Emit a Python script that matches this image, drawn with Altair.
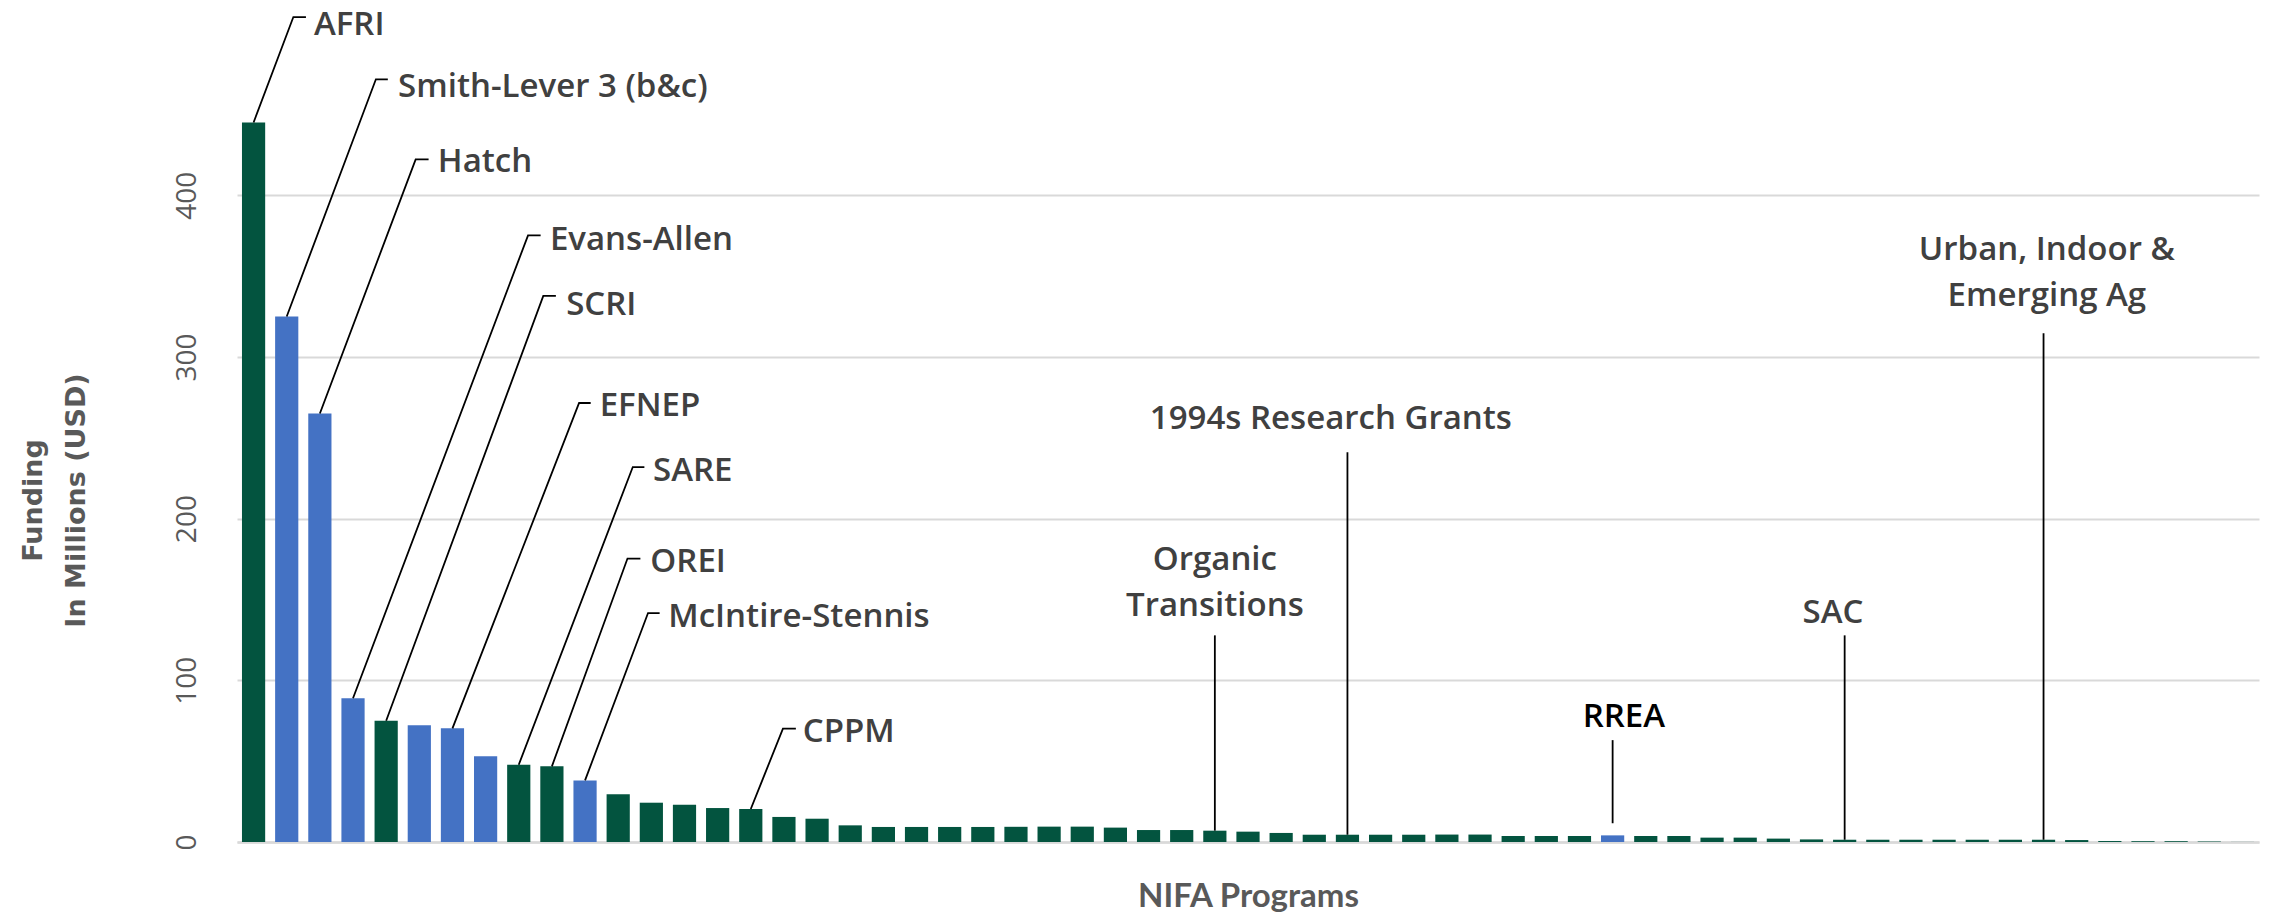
import altair as alt
import pandas as pd

# ---- bar data (NIFA programs, funding in millions USD, sorted) ----
funding = [445, 325, 265, 88.9, 75.0, 72.2, 70.3, 53.0, 47.8, 46.8, 38.1,
           29.5, 24.3, 23.1, 21.0, 20.4, 15.5, 14.4, 10.3, 9.3, 9.3, 9.3, 9.3,
           9.4, 9.5, 9.5, 8.9, 7.4, 7.4, 7.0, 6.4, 5.6, 4.5, 4.5, 4.5, 4.5,
           4.6, 4.6, 3.7, 3.7, 3.7, 4.1, 3.7, 3.7, 2.7, 2.7, 2.1, 1.6,
           1.4, 1.4, 1.4, 1.4, 1.4, 1.4, 1.4, 1.2, 0.6, 0.5, 0.5, 0.3, 0.05]
highlight_idx = [1, 2, 3, 5, 6, 7, 10, 41]

# ---- annotation data (positions in data units: bar index, funding) ----
label_text = ["AFRI", "Smith-Lever 3 (b&c)", "Hatch", "Evans-Allen", "SCRI",
              "EFNEP", "SARE", "OREI", "McIntire-Stennis", "CPPM",
              "Organic\nTransitions", "1994s Research Grants", "RREA", "SAC",
              "Urban, Indoor &\nEmerging Ag"]
label_bar = [0, 1, 2, 3, 4, 6, 8, 9, 10, 15, 29, 33, 41, 48, 54]
label_kind = ["side"] * 10 + ["top"] * 5
label_x = [1.82, 4.36, 5.56, 8.94, 9.43, 10.44, 12.05, 11.97, 12.51, 16.57,
           29.0, 32.5, 41.34, 47.65, 54.1]
label_y = [499.0, 460.5, 414.2, 366.2, 326.0, 263.3, 223.1, 166.8, 132.8, 61.7,
           168.0, 255.2, 70.9, 135.3, 359.7]
elbow_x = [1.20, 3.69, 4.89, 8.28, 8.74, 9.82, 11.44, 11.28, 11.90, 15.97,
           29, 33, 41, 48, 54]
elbow_y = [510.2, 471.7, 422.2, 375.2, 337.7, 271.5, 231.9, 175.3, 141.6, 70.1,
           127.8, 241.0, 63.0, 127.8, 314.6]
end_x = [1.58, 4.05, 5.28, 8.66, 9.12, 10.17, 11.79, 11.67, 12.25, 16.36,
         29, 33, 41, 48, 54]
leader_start_override = {"RREA": 11.6}

named = {b: t.replace("\n", " ") for b, t in zip(label_bar, label_text)}
programs = [named.get(i, f"Program {i + 1}") for i in range(len(funding))]
groups = ["Highlighted" if i in highlight_idx else "Other" for i in range(len(funding))]

bars_df = pd.DataFrame({"program": programs, "funding": funding,
                        "group": groups, "idx": list(range(len(funding)))})

labels_df = pd.DataFrame({"label": label_text, "tx": label_x, "ty": label_y,
                          "kind": label_kind})

rows = []
for k, lab in enumerate(label_text):
    b = label_bar[k]
    sy = leader_start_override.get(lab, funding[b])
    rows.append({"label": lab, "order": 0, "lx": b, "ly": sy})
    rows.append({"label": lab, "order": 1, "lx": elbow_x[k], "ly": elbow_y[k]})
    rows.append({"label": lab, "order": 2, "lx": end_x[k], "ly": elbow_y[k]})
leaders_df = pd.DataFrame(rows)

GREEN = "#03543F"
BLUE = "#4472C4"
LABEL_FONT = "Open Sans"

xscale = alt.Scale(domain=[-0.5, len(funding) - 0.5], nice=False, zero=False)
yscale = alt.Scale(domain=[0, 512.7], nice=False)

xaxis = alt.Axis(title="NIFA Programs", labels=False, ticks=False, grid=False,
                 domain=True, domainColor="#d9d9d9", domainWidth=2.5,
                 titleFont="Lato", titleFontSize=33, titleFontWeight="bold",
                 titleColor="#595959", titleY=64, titleBaseline="alphabetic")
yaxis = alt.Axis(title=["Funding", "In Millions (USD)"], values=[0, 100, 200, 300, 400],
                 labelAngle=270, labelAlign="center", labelBaseline="middle",
                 labelPadding=50, labelFont="Open Sans", labelFontSize=28,
                 labelColor="#595959", ticks=False, domain=False,
                 gridColor="#d9d9d9", gridWidth=2,
                 titleFont="DejaVu Sans", titleFontSize=27, titleFontWeight="bold",
                 titleColor="#595959", titleAngle=270, titleAlign="center",
                 titleBaseline="middle", titleLineHeight=43,
                 titleX=-204, titleY=487)


def X(field):
    return alt.X(field, scale=xscale, axis=xaxis)


def Y(field):
    return alt.Y(field, scale=yscale, axis=yaxis)


bars = alt.Chart(bars_df).transform_calculate(
    x0="datum.idx - 0.35", x1="datum.idx + 0.35", base="0"
).mark_bar().encode(
    x=X("x0:Q"),
    x2="x1:Q",
    y=Y("funding:Q"),
    y2="base:Q",
    color=alt.Color("group:N", scale=alt.Scale(domain=["Other", "Highlighted"],
                                               range=[GREEN, BLUE]), legend=None),
)

leaders = alt.Chart(leaders_df).mark_line(color="black", strokeWidth=1.8).encode(
    x=X("lx:Q"), y=Y("ly:Q"), detail="label:N", order="order:Q"
)

text_color = alt.condition(alt.datum.label == "RREA", alt.value("#000000"), alt.value("#404040"))

side_text = alt.Chart(labels_df).transform_filter(alt.datum.kind == "side").mark_text(
    align="left", baseline="alphabetic", font=LABEL_FONT, fontSize=33, fontWeight=600,
    lineBreak="\n", lineHeight=46
).encode(x=X("tx:Q"), y=Y("ty:Q"), text="label:N", color=text_color)

top_text = alt.Chart(labels_df).transform_filter(alt.datum.kind == "top").mark_text(
    align="center", baseline="alphabetic", font=LABEL_FONT, fontSize=33, fontWeight=600,
    lineBreak="\n", lineHeight=46
).encode(x=X("tx:Q"), y=Y("ty:Q"), text="label:N", color=text_color)

chart = alt.layer(bars, leaders, side_text, top_text).properties(
    width=2022, height=829,
    padding={"left": 229, "top": 5, "right": 5, "bottom": 70},
    autosize=alt.AutoSizeParams(type="none"),
    background="white",
).configure_view(strokeWidth=0)

chart.save("out.html", embed_options={"renderer": "svg", "actions": False})
